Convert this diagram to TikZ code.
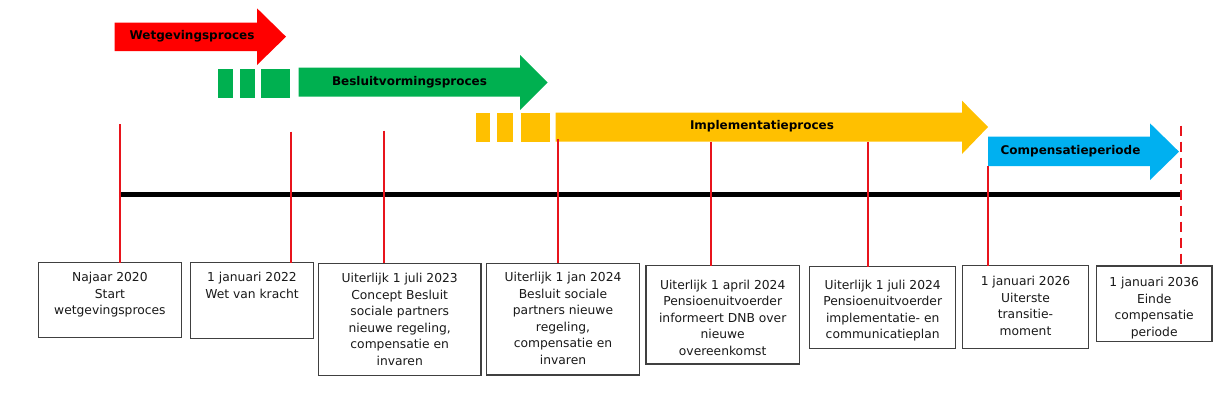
\documentclass[tikz,border=0pt]{standalone}
\usepackage{fontspec}
\setmainfont{DejaVu Sans}
\definecolor{cred}{HTML}{FF0000}
\definecolor{cgreen}{HTML}{00B050}
\definecolor{cyellow}{HTML}{FFC000}
\definecolor{cblue}{HTML}{00B0F0}
\definecolor{boxline}{HTML}{404040}
\definecolor{tline}{HTML}{E8141C}
\begin{document}
\begin{tikzpicture}[x=1pt,y=-1pt,
  box/.style={draw=boxline,line width=1.4pt,inner sep=0pt,outer sep=0pt,fill=white},
  boxtext/.style={anchor=north,inner sep=0pt,align=center,font=\fontsize{12.3}{16.5}\selectfont,text=black!90},
  arrowtext/.style={inner sep=0pt,font=\fontsize{12}{14}\selectfont\bfseries,text=black},
  redtick/.style={draw=tline,line width=2pt},
  axis/.style={draw=black,line width=5pt}]
\useasboundingbox (0,0) rectangle (1227,405);
% process arrows
\fill[cred] (114.7,22.7) -- (257,22.7) -- (257,8.3) -- (286,36.7) -- (257,65) -- (257,51) -- (114.7,51) -- cycle;
\node[arrowtext] (aw) at (192,36.7) {Wetgevingsproces};
\fill[cgreen] (217.5,68.5) rectangle (232.5,97.5);
\fill[cgreen] (240,68.5) rectangle (255,97.5);
\fill[cgreen] (261,68.5) rectangle (290,97.5);
\fill[cgreen] (298.5,67.7) -- (520,67.7) -- (520,55) -- (547.6,82.5) -- (520,110) -- (520,96.7) -- (298.5,96.7) -- cycle;
\node[arrowtext] (ab) at (409.5,82) {Besluitvormingsproces};
\fill[cyellow] (475.7,113.3) rectangle (490.3,142);
\fill[cyellow] (497.4,113.3) rectangle (512.8,142);
\fill[cyellow] (520.8,113.3) rectangle (549.6,142);
\fill[cyellow] (555.6,112.7) -- (962,112.7) -- (962,100.7) -- (988,127) -- (962,154) -- (962,141.7) -- (555.6,141.7) -- cycle;
\node[arrowtext] (ai) at (762,126.5) {Implementatieproces};
\fill[cblue] (988,136.7) -- (1150,136.7) -- (1150,123.3) -- (1179,151.7) -- (1150,180) -- (1150,166) -- (988,166) -- cycle;
\node[arrowtext] (ac) at (1070.5,151) {Compensatieperiode};
% time axis
\coordinate (tl) at (119,194.5);
\coordinate (tr) at (1181,194.5);
\draw[axis] (tl) -- (tr);
% boxes
\node[box,minimum width=142.6pt,minimum height=74.6pt] (b1) at (109.9,300) {};
\node[box,minimum width=122.7pt,minimum height=75.6pt] (b2) at (252.05,300.5) {};
\node[box,minimum width=162.6pt,minimum height=112.4pt] (b3) at (399.7,319.5) {};
\node[box,minimum width=153.4pt,minimum height=111.7pt] (b4) at (563,319.15) {};
\node[box,minimum width=153.5pt,minimum height=98.3pt] (b5) at (722.75,314.85) {};
\node[box,minimum width=145.9pt,minimum height=82pt] (b6) at (882.65,307.7) {};
\node[box,minimum width=126.1pt,minimum height=83pt] (b7) at (1025.45,307.2) {};
\node[box,minimum width=115.4pt,minimum height=75.7pt] (b8) at (1154.2,303.85) {};
\node[boxtext] (t1) at (109.9,272) {Najaar 2020\\Start\\wetgevingsproces};
\node[boxtext] (t2) at (252,272) {1 januari 2022\\Wet van kracht};
\node[boxtext] (t3) at (399.7,273) {Uiterlijk 1 juli 2023\\Concept Besluit\\sociale partners\\nieuwe regeling,\\compensatie en\\invaren};
\node[boxtext] (t4) at (563,272) {Uiterlijk 1 jan 2024\\Besluit sociale\\partners nieuwe\\regeling,\\compensatie en\\invaren};
\node[boxtext] (t5) at (722.7,279.6) {Uiterlijk 1 april 2024\\Pensioenuitvoerder\\informeert DNB over\\nieuwe\\overeenkomst};
\node[boxtext] (t6) at (882.7,279.6) {Uiterlijk 1 juli 2024\\Pensioenuitvoerder\\implementatie- en\\communicatieplan};
\node[boxtext] (t7) at (1025.5,276) {1 januari 2026\\Uiterste\\transitie-\\moment};
\node[boxtext] (t8) at (1154.2,277) {1 januari 2036\\Einde\\compensatie\\periode};
% ticks
\coordinate (l1) at (119.5,124);
\coordinate (l2) at (291,131.7);
\coordinate (l3) at (384,130.7);
\coordinate (l4) at (557.5,139);
\coordinate (l5) at (711,141.7);
\coordinate (l6) at (868,141.7);
\coordinate (l7) at (988,166);
\coordinate (l8) at (1181,125.7);
\draw[redtick] (l1) -- (l1 |- b1.north);
\draw[redtick] (l2) -- (l2 |- b2.north);
\draw[redtick] (l3) -- (l3 |- b3.north);
\draw[redtick] (l4) -- (l4 |- b4.north);
\draw[redtick] (l5) -- (l5 |- b5.north);
\draw[redtick] (l6) -- (l6 |- b6.north);
\draw[redtick] (l7) -- (l7 |- b7.north);
\draw[redtick,dash pattern=on 10pt off 6pt] (l8) -- (l8 |- b8.north);
\end{tikzpicture}
\end{document}
